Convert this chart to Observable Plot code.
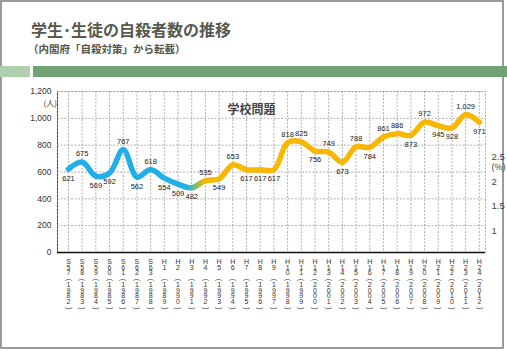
<!DOCTYPE html>
<html>
<head>
<meta charset="utf-8">
<script src="https://cdn.jsdelivr.net/npm/d3@7"></script>
<script src="https://cdn.jsdelivr.net/npm/@observablehq/plot@0.6"></script>
<style>
  html, body { margin: 0; padding: 0; background: #fff; }
  #wrap { position: relative; width: 507px; height: 351px; overflow: hidden; background: #fff; }
  #border { position: absolute; left: 0; top: 0; width: 504px; height: 349px; box-sizing: border-box; border: 2px solid #9a9a9a; }
  #title { position: absolute; left: 31px; top: 21px; font: bold 16px/16px "Noto Sans CJK JP", sans-serif; color: #58584c; white-space: nowrap; }
  #subtitle { position: absolute; left: 28px; top: 43px; font: bold 10.5px/11px "Noto Sans CJK JP", sans-serif; color: #55554a; white-space: nowrap; }
  #bar1 { position: absolute; left: 0; top: 66px; width: 30px; height: 11px; background: #afcfae; }
  #bar2 { position: absolute; left: 33px; top: 66px; width: 474px; height: 11px; background: #6fa274; }
  #chart { position: absolute; left: 0; top: 80px; }
</style>
</head>
<body>
<div id="wrap">
  <div id="border"></div>
  <div id="title">学生･生徒の自殺者数の推移</div>
  <div id="subtitle">（内閣府「自殺対策」から転載）</div>
  <div id="bar1"></div>
  <div id="bar2"></div>
  <div id="chart"></div>
</div>
<script>
const eras = ["S57","S58","S59","S60","S61","S62","S63","H1","H2","H3","H4","H5","H6","H7","H8","H9",
  "H10","H11","H12","H13","H14","H15","H16","H17","H18","H19","H20","H21","H22","H23","H24"];
const years = [1982,1983,1984,1985,1986,1987,1988,1989,1990,1991,1992,1993,1994,1995,1996,1997,
  1998,1999,2000,2001,2002,2003,2004,2005,2006,2007,2008,2009,2010,2011,2012];
const suicides = [621,675,569,592,767,562,618,554,509,482,535,549,653,617,617,617,
  818,825,756,749,673,788,784,861,886,873,972,945,928,1029,971];
const yTicks = [0,200,400,600,800,1000,1200];
const pctTicks = [1,1.5,2,2.5];
const chartLabel = "学校問題";
const unitLeft = "(人)";
const unitRight = "(%)";

const data = eras.map((era, i) => ({ i, era, year: years[i], v: suicides[i] }));
// label above the point when it sits higher than its neighbours' mean
const isAbove = (d) => {
  const nb = [suicides[d.i - 1], suicides[d.i + 1]].filter(v => v !== undefined);
  return d.v > d3.mean(nb);
};
const eraText = d => [d.era[0], ...d.era.slice(1).padEnd(2, " ").split("")].join("\n");
const yearText = d => String(d.year).split("").join("\n");
// percent axis sits on the left scale: 1% ↔ ~164, 2.5% ↔ ~709
const pctToLeft = p => p * 363.7 - 200;
const fmt = d3.format(",");
const grid = { stroke: "#9a9a9a", strokeDasharray: "2,1.5", strokeWidth: 0.8 };
const xl = { x: "i", frameAnchor: "bottom", fontSize: 7, fill: "#333", lineHeight: 0.8 };

const plot = Plot.plot({
  width: 507,
  height: 250,
  marginLeft: 57,
  marginRight: 22,
  marginTop: 11,
  marginBottom: 78,
  x: { domain: [-0.8, 30.45], axis: null },
  y: { domain: [0, 1200], ticks: yTicks, tickFormat: fmt, tickSize: 0, tickPadding: 6, label: null, line: true },
  style: { fontFamily: "'Liberation Sans', Arial, sans-serif", fontSize: "8.5px", color: "#333", background: "transparent" },
  marks: [
    Plot.frame(grid),
    Plot.ruleY(yTicks.slice(1), grid),
    Plot.ruleX(data, { x: "i", ...grid }),
    Plot.ruleY([0], { stroke: "#111", strokeWidth: 1.5 }),
    Plot.line(data, { x: "i", y: "v", curve: "catmull-rom", stroke: "#dd4b84", strokeWidth: 1.5, dy: 1.5 }),
    Plot.line(data, { x: "i", y: "v", curve: "catmull-rom", stroke: "url(#lineGrad)", strokeWidth: 5.5 }),
    Plot.text(data.filter(isAbove), { x: "i", y: "v", text: d => fmt(d.v), dy: -8, fontSize: 7.5, fill: "#222" }),
    Plot.text(data.filter(d => !isAbove(d)), { x: "i", y: "v", text: d => fmt(d.v), dy: 9, fontSize: 7.5, fill: "#222" }),
    Plot.text(data, { ...xl, text: eraText, lineAnchor: "top", dy: 7.5 }),
    Plot.text(data, { ...xl, text: () => "(", rotate: 90, lineAnchor: "middle", dy: 27.5 }),
    Plot.text(data, { ...xl, text: yearText, lineAnchor: "top", dy: 30.5 }),
    Plot.text(data, { ...xl, text: () => ")", rotate: 90, lineAnchor: "middle", dy: 56 }),
    Plot.text([unitLeft], { frameAnchor: "top-left", dx: -14, dy: 9, fontSize: 8, fill: "#333", fontFamily: "'Noto Sans CJK JP', sans-serif" }),
    Plot.text(pctTicks, { y: p => pctToLeft(p), text: p => String(p), frameAnchor: "right", dx: 6, textAnchor: "start", fontSize: 9.5, fill: "#444", fontFamily: "'Liberation Sans Narrow', 'Liberation Sans', sans-serif" }),
    Plot.text([unitRight], { y: () => pctToLeft(2.5), text: d => d, frameAnchor: "right", dx: 6, dy: 10, textAnchor: "start", fontSize: 9, fill: "#444", fontFamily: "'Liberation Sans Narrow', 'Liberation Sans', sans-serif" }),
    Plot.text([chartLabel], { frameAnchor: "top", dx: -20, dy: 14, fontSize: 12, fontWeight: "bold", fill: "#444", fontFamily: "'Noto Sans CJK JP', sans-serif" })
  ]
});

const xs = plot.scale("x");
const svg = d3.select(plot.tagName.toLowerCase() === "svg" ? plot : plot.querySelector("svg"));
const grad = svg.insert("defs", ":first-child").append("linearGradient")
  .attr("id", "lineGrad").attr("gradientUnits", "userSpaceOnUse")
  .attr("x1", xs.apply(8.7)).attr("x2", xs.apply(9.9)).attr("y1", 0).attr("y2", 0);
grad.append("stop").attr("offset", 0).attr("stop-color", "#22afe8");
grad.append("stop").attr("offset", 0.5).attr("stop-color", "#7cc46a");
grad.append("stop").attr("offset", 1).attr("stop-color", "#f8b700");

document.getElementById("chart").appendChild(plot);
</script>
</body>
</html>
